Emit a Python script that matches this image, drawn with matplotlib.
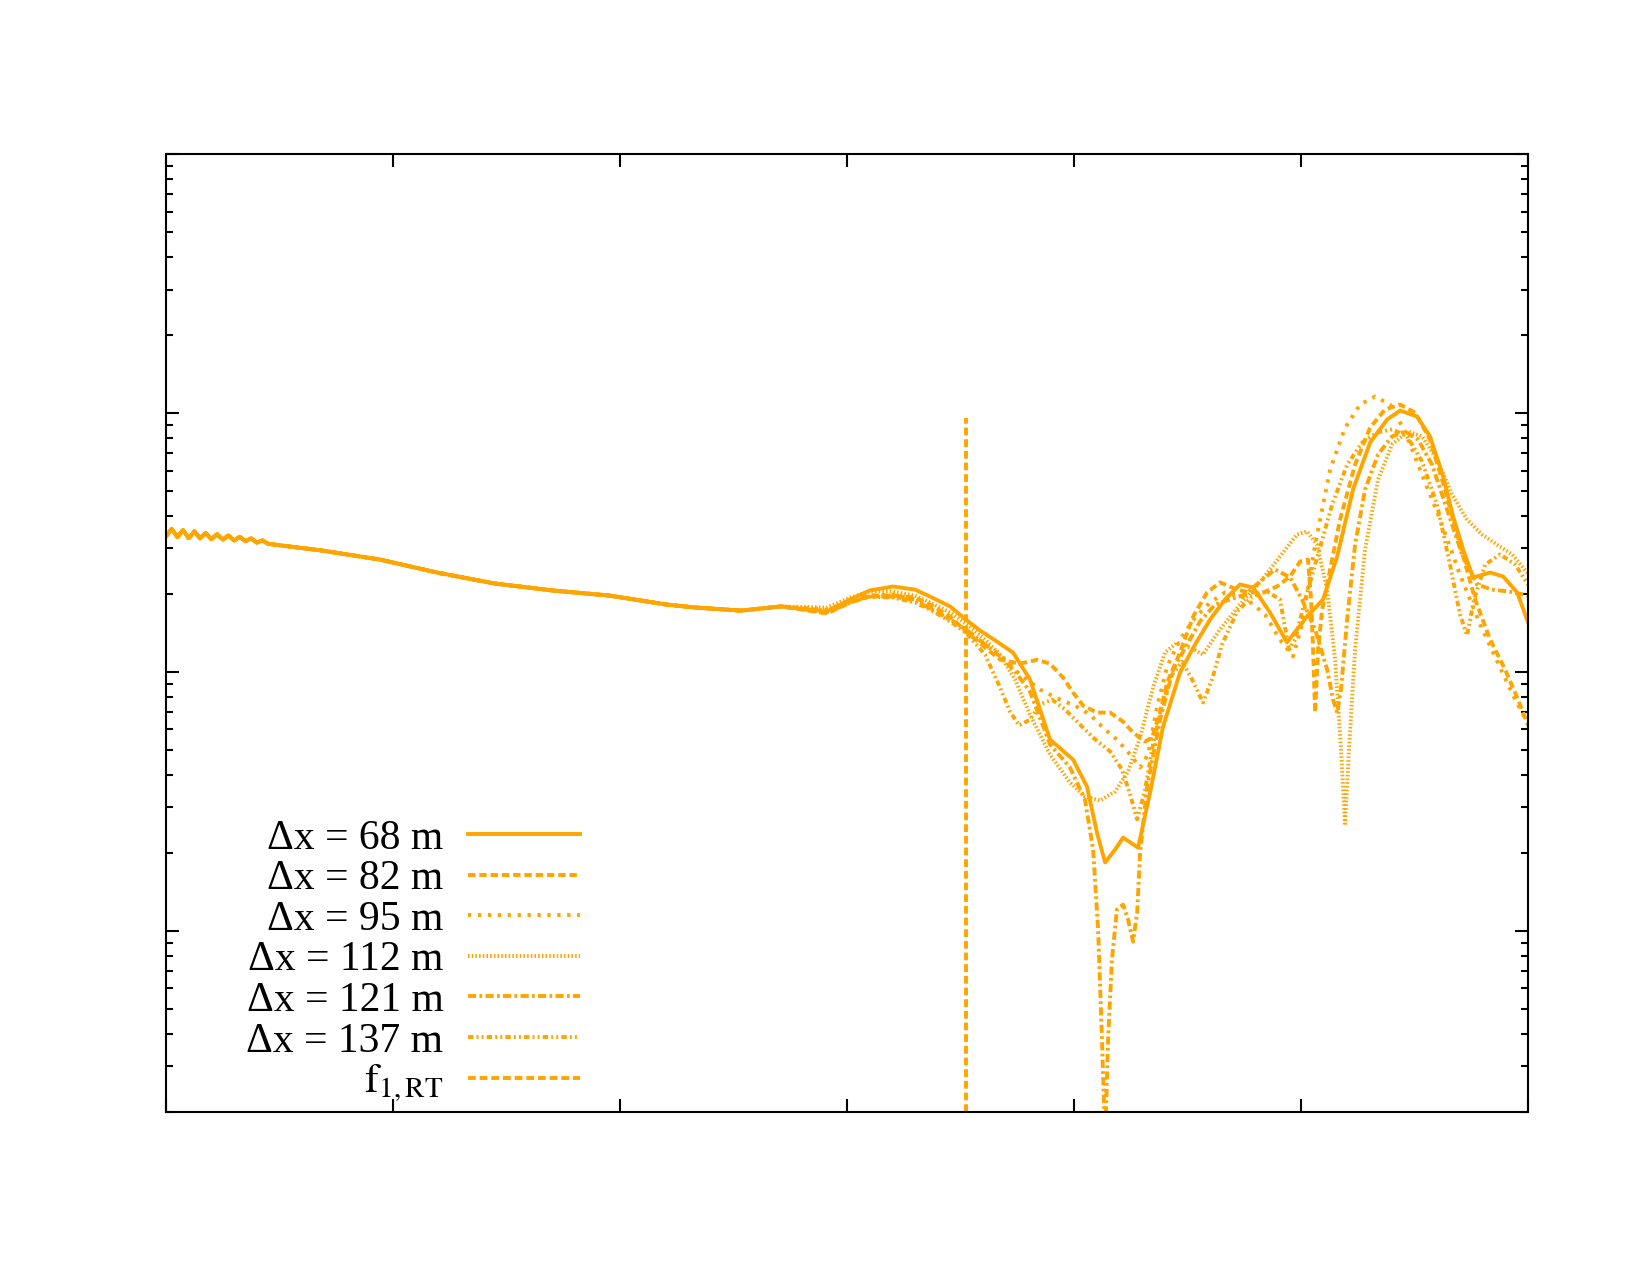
import numpy as np
import matplotlib
matplotlib.use("Agg")
import matplotlib.pyplot as plt
from matplotlib.ticker import FixedLocator, LogLocator, NullFormatter

plt.rcParams["font.family"] = ["Liberation Serif", "DejaVu Serif"]
plt.rcParams["mathtext.fontset"] = "stix"

ORANGE = "#ffa500"

########## DATA (x in axis units, y stored as log10 of the amplitude) ##########
# part shared by every run (low frequencies, curves lie on top of each other)
x_common = [0.000, 0.025, 0.050, 0.075, 0.100, 0.125, 0.150, 0.175, 0.200, 0.225,
            0.250, 0.275, 0.300, 0.325, 0.350, 0.375, 0.400, 0.425, 0.450,
            0.687, 0.943, 1.194, 1.445, 1.700, 1.952, 2.207, 2.330, 2.533, 2.709]
lg_common = [-1.476, -1.447, -1.479, -1.452, -1.483, -1.457, -1.484, -1.463, -1.487, -1.468,
             -1.489, -1.473, -1.492, -1.478, -1.495, -1.484, -1.500, -1.492, -1.505,
             -1.531, -1.566, -1.616, -1.658, -1.685, -1.705, -1.740, -1.751, -1.763, -1.747]

# dx = 68 m
x_68 = [2.912, 3.013, 3.101, 3.203, 3.300, 3.366, 3.454, 3.524, 3.586, 3.661,
        3.731, 3.806, 3.894, 3.996, 4.057, 4.101, 4.137, 4.181, 4.216, 4.282,
        4.335, 4.392, 4.467, 4.533, 4.599, 4.665, 4.731, 4.789, 4.863, 4.938,
        5.026, 5.097, 5.159, 5.229, 5.304, 5.379, 5.436, 5.511, 5.568, 5.626,
        5.670, 5.714, 5.758, 5.833, 5.890, 5.952, 6.000]
lg_68 = [-1.767, -1.720, -1.685, -1.670, -1.682, -1.709, -1.747, -1.798, -1.840, -1.883,
         -1.925, -2.029, -2.261, -2.339, -2.443, -2.621, -2.736, -2.686, -2.640, -2.679,
         -2.466, -2.211, -2.002, -1.894, -1.798, -1.720, -1.662, -1.674, -1.770, -1.886,
         -1.786, -1.720, -1.554, -1.295, -1.114, -1.025, -0.990, -1.013, -1.090, -1.245,
         -1.400, -1.527, -1.635, -1.616, -1.631, -1.693, -1.809]

# dx = 82 m
x_82 = [2.912, 3.013, 3.101, 3.203, 3.300, 3.366, 3.454, 3.524, 3.608, 3.674,
        3.762, 3.837, 3.894, 3.952, 3.996, 4.040, 4.101, 4.159, 4.216, 4.260,
        4.313, 4.344, 4.379, 4.410, 4.467, 4.524, 4.586, 4.643, 4.718, 4.775,
        4.833, 4.894, 4.952, 4.996, 5.031, 5.044, 5.053, 5.062, 5.075, 5.093,
        5.128, 5.172, 5.238, 5.304, 5.370, 5.436, 5.502, 5.568, 5.634, 5.700,
        5.767, 5.833, 5.899, 5.956, 6.000]
lg_82 = [-1.774, -1.732, -1.705, -1.705, -1.713, -1.740, -1.786, -1.844, -1.906, -1.952,
         -1.968, -1.953, -1.968, -2.022, -2.080, -2.130, -2.157, -2.157, -2.192, -2.234,
         -2.269, -2.253, -2.157, -2.041, -1.925, -1.787, -1.693, -1.654, -1.682, -1.693,
         -1.693, -1.670, -1.631, -1.573, -1.566, -1.720, -1.913, -2.157, -1.913, -1.759,
         -1.604, -1.411, -1.199, -1.056, -0.986, -0.967, -0.998, -1.102, -1.295, -1.508,
         -1.720, -1.875, -1.991, -2.107, -2.207]

# dx = 95 m
x_95 = [2.912, 3.013, 3.101, 3.203, 3.300, 3.366, 3.454, 3.524, 3.608, 3.674,
        3.762, 3.850, 3.938, 4.004, 4.070, 4.137, 4.189, 4.247, 4.291, 4.326,
        4.366, 4.410, 4.467, 4.533, 4.599, 4.665, 4.753, 4.841, 4.907, 4.965,
        5.004, 5.062, 5.128, 5.194, 5.260, 5.326, 5.392, 5.458, 5.524, 5.612,
        5.700, 5.789, 5.877, 5.943, 6.000]
lg_95 = [-1.759, -1.728, -1.705, -1.701, -1.720, -1.751, -1.797, -1.836, -1.894, -1.933,
         -2.010, -2.068, -2.107, -2.130, -2.165, -2.223, -2.261, -2.319, -2.369, -2.319,
         -2.134, -1.979, -1.875, -1.790, -1.732, -1.693, -1.713, -1.778, -1.875, -1.940,
         -1.817, -1.508, -1.218, -1.056, -0.967, -0.936, -0.967, -1.071, -1.218, -1.411,
         -1.624, -1.817, -1.983, -2.107, -2.199]

# dx = 112 m
x_112 = [2.912, 3.013, 3.101, 3.203, 3.300, 3.366, 3.454, 3.524, 3.608, 3.674,
         3.740, 3.806, 3.894, 3.982, 4.048, 4.115, 4.181, 4.238, 4.291, 4.348,
         4.401, 4.454, 4.511, 4.568, 4.643, 4.731, 4.819, 4.907, 4.982, 5.026,
         5.070, 5.115, 5.150, 5.176, 5.194, 5.211, 5.238, 5.282, 5.339, 5.401,
         5.471, 5.533, 5.599, 5.665, 5.731, 5.797, 5.863, 5.930, 6.000]
lg_112 = [-1.751, -1.713, -1.689, -1.689, -1.705, -1.732, -1.770, -1.813, -1.875, -1.933,
          -2.029, -2.165, -2.319, -2.427, -2.481, -2.497, -2.462, -2.385, -2.253, -2.060,
          -1.925, -1.886, -1.906, -1.933, -1.836, -1.740, -1.654, -1.554, -1.469, -1.457,
          -1.508, -1.682, -1.952, -2.300, -2.593, -2.300, -1.913, -1.527, -1.257, -1.121,
          -1.071, -1.090, -1.179, -1.315, -1.411, -1.469, -1.508, -1.546, -1.620]

# dx = 121 m
x_121 = [2.912, 3.013, 3.101, 3.203, 3.300, 3.366, 3.454, 3.524, 3.608, 3.674,
         3.740, 3.806, 3.894, 3.982, 4.048, 4.084, 4.106, 4.123, 4.137, 4.150,
         4.167, 4.189, 4.216, 4.238, 4.260, 4.278, 4.291, 4.322, 4.379, 4.436,
         4.498, 4.555, 4.621, 4.687, 4.753, 4.819, 4.885, 4.952, 5.004, 5.062,
         5.115, 5.141, 5.159, 5.176, 5.203, 5.238, 5.282, 5.339, 5.401, 5.458,
         5.515, 5.577, 5.643, 5.709, 5.775, 5.841, 5.921, 6.000]
lg_121 = [-1.770, -1.732, -1.709, -1.709, -1.724, -1.755, -1.797, -1.836, -1.894, -1.940,
          -1.998, -2.076, -2.280, -2.369, -2.493, -2.686, -2.995, -3.420, -3.807, -3.420,
          -3.111, -2.918, -2.899, -2.957, -3.042, -2.930, -2.698, -2.443, -2.184, -1.991,
          -1.894, -1.805, -1.740, -1.720, -1.701, -1.651, -1.604, -1.635, -1.720, -1.836,
          -1.991, -2.107, -2.157, -2.068, -1.797, -1.508, -1.295, -1.160, -1.090, -1.071,
          -1.102, -1.199, -1.372, -1.546, -1.662, -1.682, -1.690, -1.705]

# dx = 137 m
x_137 = [2.912, 3.013, 3.101, 3.203, 3.300, 3.366, 3.454, 3.524, 3.608, 3.674,
         3.718, 3.758, 3.806, 3.850, 3.903, 3.960, 4.026, 4.093, 4.159, 4.211,
         4.247, 4.278, 4.313, 4.348, 4.388, 4.432, 4.476, 4.520, 4.568, 4.608,
         4.652, 4.718, 4.784, 4.850, 4.907, 4.947, 4.974, 5.018, 5.075, 5.137,
         5.203, 5.269, 5.335, 5.401, 5.467, 5.533, 5.599, 5.656, 5.700, 5.731,
         5.762, 5.811, 5.877, 5.943, 6.000]
lg_137 = [-1.763, -1.728, -1.709, -1.713, -1.732, -1.759, -1.805, -1.848, -1.933, -2.060,
          -2.153, -2.207, -2.184, -2.126, -2.107, -2.145, -2.203, -2.261, -2.307, -2.377,
          -2.474, -2.570, -2.454, -2.280, -2.126, -2.010, -1.960, -2.029, -2.118, -2.029,
          -1.894, -1.767, -1.709, -1.689, -1.720, -1.913, -1.875, -1.720, -1.546, -1.353,
          -1.199, -1.114, -1.075, -1.063, -1.090, -1.187, -1.353, -1.585, -1.778, -1.859,
          -1.720, -1.585, -1.546, -1.585, -1.662]

# first Rayleigh-type frequency marker
f1_rt = 3.524
f1_span = [2.0e-4, 0.096]

labels = ["\u0394x = 68 m", "\u0394x = 82 m", "\u0394x = 95 m",
          "\u0394x = 112 m", "\u0394x = 121 m", "\u0394x = 137 m"]
tails = [(x_68, lg_68), (x_82, lg_82), (x_95, lg_95),
         (x_112, lg_112), (x_121, lg_121), (x_137, lg_137)]

# gnuplot-like dash types (in units of line width)
dash_styles = [None, (1.9, 1.0), (0.85, 1.7), (0.4, 0.55),
               (2.1, 0.85, 0.7, 0.85), (1.4, 0.8, 0.5, 0.8, 0.5, 0.8)]


def plotChart():
    fig = plt.figure(figsize=(16.5, 12.75), dpi=100)
    ax = fig.add_axes([0.1006, 0.1281, 0.8255, 0.7509])
    lw = 2.8

    for (xt, lt), lab, ds in zip(tails, labels, dash_styles):
        xx = np.concatenate([x_common, xt])
        yy = 10.0 ** np.concatenate([lg_common, lt])
        if ds is None:
            ax.plot(xx, yy, color=ORANGE, lw=lw, label=lab)
        else:
            ax.plot(xx, yy, color=ORANGE, lw=lw, dashes=ds, label=lab)

    ax.plot([f1_rt, f1_rt], f1_span, color=ORANGE, lw=lw, dashes=(2.0, 1.0),
            label=r"$\mathrm{f}_{\mathrm{1,RT}}$")

    ax.set_yscale("log")
    ax.set_xlim(0, 6)
    ax.set_ylim(2e-4, 1)
    ax.xaxis.set_major_locator(FixedLocator([0, 1, 2, 3, 4, 5, 6]))
    ax.yaxis.set_major_locator(LogLocator(base=10, numticks=10))
    ax.yaxis.set_minor_locator(LogLocator(base=10, subs=np.arange(2, 10), numticks=20))
    ax.xaxis.set_major_formatter(NullFormatter())
    ax.yaxis.set_major_formatter(NullFormatter())
    ax.yaxis.set_minor_formatter(NullFormatter())
    ax.tick_params(which="both", direction="in", top=True, right=True, width=1.5)
    ax.tick_params(which="major", length=9.5)
    ax.tick_params(which="minor", length=5)
    for s in ax.spines.values():
        s.set_linewidth(1.5)

    ax.legend(loc="lower right", bbox_to_anchor=(0.304, 0.008),
              frameon=False, markerfirst=False, fontsize=30,
              handlelength=2.7, handletextpad=0.58, labelspacing=0.05,
              borderpad=0, borderaxespad=0)

    fig.savefig("out.png", dpi=100)
    plt.close(fig)


if __name__ == "__main__":
    plotChart()
